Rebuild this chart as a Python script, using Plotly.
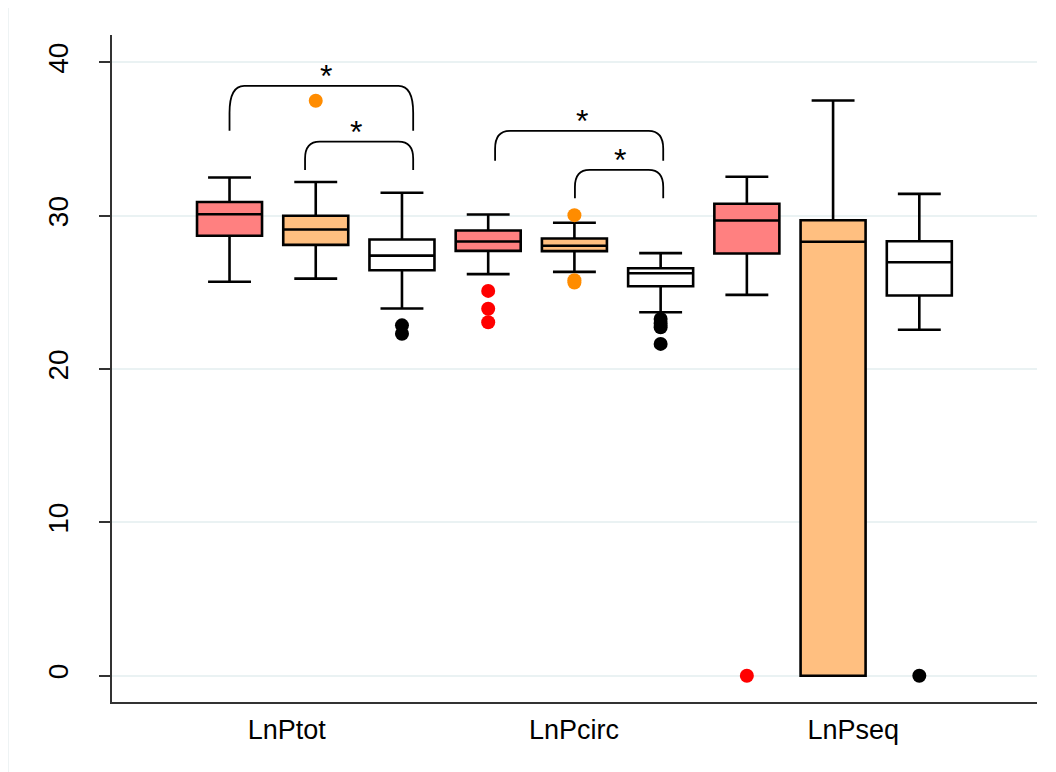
import plotly.graph_objects as go

# ---------------- data ----------------
categories = ["LnPtot", "LnPcirc", "LnPseq"]
groups = ["Group 1", "Group 2", "Group 3"]

# per-group box statistics (one value per category)
g1_q1 = [28.70, 27.71, 27.54]
g1_median = [30.10, 28.32, 29.69]
g1_q3 = [30.90, 29.04, 30.78]
g1_lower = [25.70, 26.19, 24.84]
g1_upper = [32.50, 30.08, 32.54]
g1_outliers = [[], [25.10, 23.93, 23.05], [0.0]]

g2_q1 = [28.10, 27.69, 0.0]
g2_median = [29.10, 28.04, 28.30]
g2_q3 = [30.00, 28.52, 29.71]
g2_lower = [25.90, 26.34, 0.0]
g2_upper = [32.20, 29.54, 37.52]
g2_outliers = [[37.50], [30.04, 25.80, 25.65], []]

g3_q1 = [26.45, 25.40, 24.80]
g3_median = [27.40, 26.25, 26.97]
g3_q3 = [28.45, 26.58, 28.34]
g3_lower = [23.95, 23.71, 22.56]
g3_upper = [31.50, 27.56, 31.43]
g3_outliers = [[22.85, 22.30], [23.27, 22.98, 22.73, 21.64], [0.0]]

# significance brackets: (left x, right x, top y, leg bottom y, label)
brackets = [
    (0.00, 2.13, 38.47, 35.54, "*"),
    (0.876, 2.13, 34.83, 32.99, "*"),
    (3.08, 5.03, 35.53, 33.59, "*"),
    (4.006, 5.03, 32.99, 31.14, "*"),
]
star_x = [1.116, 1.464, 4.09, 4.53]

# ---------------- styling ----------------
fills = ["#FF8080", "#FFBF80", "#FFFFFF"]
dot_colors = ["#FF0000", "#FF8C00", "#000000"]
FONT = "Liberation Sans, Arial, sans-serif"

stats = [
    (g1_q1, g1_median, g1_q3, g1_lower, g1_upper, g1_outliers),
    (g2_q1, g2_median, g2_q3, g2_lower, g2_upper, g2_outliers),
    (g3_q1, g3_median, g3_q3, g3_lower, g3_upper, g3_outliers),
]

fig = go.Figure()
n_groups = len(groups)
for g, (q1, med, q3, lo, hi, outs) in enumerate(stats):
    xs = [c * n_groups + g for c in range(len(categories))]
    fig.add_trace(go.Box(
        name=groups[g], x=xs, q1=q1, median=med, q3=q3,
        lowerfence=lo, upperfence=hi,
        width=0.754, whiskerwidth=0.66,
        fillcolor=fills[g], line=dict(color="black", width=2.6),
        boxpoints=False, showlegend=False,
    ))
    ox, oy = [], []
    for c, vals in enumerate(outs):
        for v in vals:
            ox.append(c * n_groups + g)
            oy.append(v)
    fig.add_trace(go.Scatter(
        x=ox, y=oy, mode="markers", showlegend=False,
        marker=dict(color=dot_colors[g], size=14, line=dict(width=0)),
    ))

shapes = []
for (x0, x1, yt, yb, lab) in brackets:
    dx = 0.17
    dy = (yt - yb) * 0.6
    path = (f"M {x0},{yb} L {x0},{yt - dy} Q {x0},{yt} {x0 + dx},{yt} "
            f"L {x1 - dx},{yt} Q {x1},{yt} {x1},{yt - dy} L {x1},{yb}")
    shapes.append(dict(type="path", path=path, xref="x", yref="y",
                       line=dict(color="black", width=1.8)))

# faint outer frame (graph region border)
shapes.append(dict(type="rect", xref="paper", yref="paper",
                   x0=-0.1125, x1=1.3, y0=-0.3, y1=1.0435,
                   line=dict(color="#E6EEF0", width=1.5), layer="below"))

annotations = []
for (x0, x1, yt, yb, lab), sx in zip(brackets, star_x):
    annotations.append(dict(x=sx, y=yt + 0.62, text=lab, showarrow=False,
                            xref="x", yref="y", yanchor="middle",
                            font=dict(size=32, color="black", family=FONT)))

# page body has an 8px margin: size the figure so the plot lands where it should
fig.update_layout(
    width=1048, height=764,
    margin=dict(l=104, r=19, t=27, b=70),
    paper_bgcolor="white", plot_bgcolor="white",
    font=dict(family=FONT, size=27, color="black"),
    shapes=shapes, annotations=annotations,
    showlegend=False,
)
fig.update_xaxes(
    range=[-1.363, 9.365],
    tickvals=[0.664, 3.996, 7.233], ticktext=categories,
    showgrid=False, zeroline=False,
    showline=True, linecolor="#333333", linewidth=1.5,
    ticks="", ticklabelstandoff=3,
    tickfont=dict(size=27, family=FONT, color="black"),
)
fig.update_yaxes(
    range=[-1.716, 41.79],
    tickvals=[0, 10, 20, 30, 40],
    showgrid=True, gridcolor="#EAF2F3", gridwidth=2,
    zeroline=False,
    showline=True, linecolor="#333333", linewidth=1.5,
    ticks="outside", ticklen=11, tickwidth=1.5, tickcolor="#333333",
    tickangle=-90, ticklabelstandoff=20,
    tickfont=dict(size=28, family=FONT, color="black"),
)

fig.write_html("out.html")
